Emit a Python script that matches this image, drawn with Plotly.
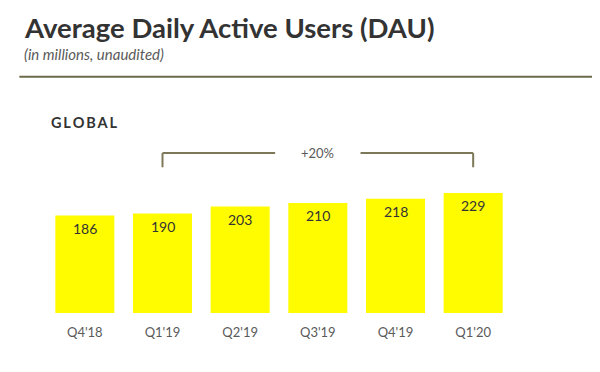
import plotly.graph_objects as go

quarters = ["Q4'18", "Q1'19", "Q2'19", "Q3'19", "Q4'19", "Q1'20"]
dau = [186, 190, 203, 210, 218, 229]
growth_label = "+20%"
title_text = "Average Daily Active Users (DAU)"
subtitle_text = "(in millions, unaudited)"
region_text = "GLOBAL"

# page body has an 8px margin; the figure fills the rest of the 600x372 window
OFF = 8
W, H = 600 - OFF, 372 - OFF
L, R, T, B = 45.65 - OFF, 88.15, 140 - OFF, 58.7
pw, ph = W - L - R, H - T - B
YMAX = 330

def px(x):
    return (x - OFF - L) / pw

def py(y):
    return 1 - (y - OFF - T) / ph

YELLOW = "#FFFC00"
OLIVE = "#7d7857"
DARK = "#333333"
GRAY = "#5a5a5a"
FONT = "Lato"

fig = go.Figure()
fig.add_trace(go.Bar(x=quarters, y=dau, marker=dict(color=YELLOW, line=dict(width=0)),
                     hoverinfo="skip"))

annotations = []
for q, v in zip(quarters, dau):
    annotations.append(dict(x=q, y=v, text=str(v), showarrow=False, yshift=-13,
                            yanchor="middle", xanchor="center",
                            font=dict(family=FONT, size=14, color=DARK)))

annotations += [
    dict(x=px(22), y=py(27), xref="paper", yref="paper", text="<b>" + title_text + "</b>",
         showarrow=False, xanchor="left", yanchor="middle",
         font=dict(family=FONT, size=27.5, color=DARK)),
    dict(x=px(22), y=py(54), xref="paper", yref="paper", text="<i>" + subtitle_text + "</i>",
         showarrow=False, xanchor="left", yanchor="middle",
         font=dict(family=FONT, size=15, color=GRAY)),
    dict(x=px(49), y=py(122), xref="paper", yref="paper",
         text="<b>" + "\u2009".join(region_text) + "</b>",
         showarrow=False, xanchor="left", yanchor="middle",
         font=dict(family=FONT, size=14.5, color=DARK)),
]

# bracket from Q1'19 to Q1'20
i0, i1 = 1, 5
mid = (i0 + i1) / 2
gap = 0.55
ytop, ybot = 305, 278
annotations.append(dict(x=mid, y=ytop, text=growth_label, showarrow=False,
                        xanchor="center", yanchor="middle",
                        font=dict(family=FONT, size=13, color=GRAY)))
line = dict(color=OLIVE, width=2)
shapes = [
    dict(type="line", x0=i0, x1=i0, y0=ybot, y1=ytop, line=line),
    dict(type="line", x0=i0, x1=mid - gap, y0=ytop, y1=ytop, line=line),
    dict(type="line", x0=mid + gap, x1=i1, y0=ytop, y1=ytop, line=line),
    dict(type="line", x0=i1, x1=i1, y0=ybot, y1=ytop, line=line),
    dict(type="line", xref="paper", yref="paper", x0=px(19), x1=px(605),
         y0=py(76.7), y1=py(76.7), line=dict(color="#6b6a4b", width=2)),
]

fig.update_layout(
    width=W, height=H, margin=dict(l=L, r=R, t=T, b=B, autoexpand=False),
    paper_bgcolor="white", plot_bgcolor="white",
    bargap=0.24, showlegend=False,
    annotations=annotations, shapes=shapes,
    xaxis=dict(type="category", range=[-0.5, 5.5], showgrid=False, zeroline=False,
               showline=False, ticks="", ticklabelstandoff=10,
               tickfont=dict(family=FONT, size=13, color=GRAY)),
    yaxis=dict(range=[0, YMAX], visible=False, showgrid=False, zeroline=False),
)

fig.write_html("out.html")
